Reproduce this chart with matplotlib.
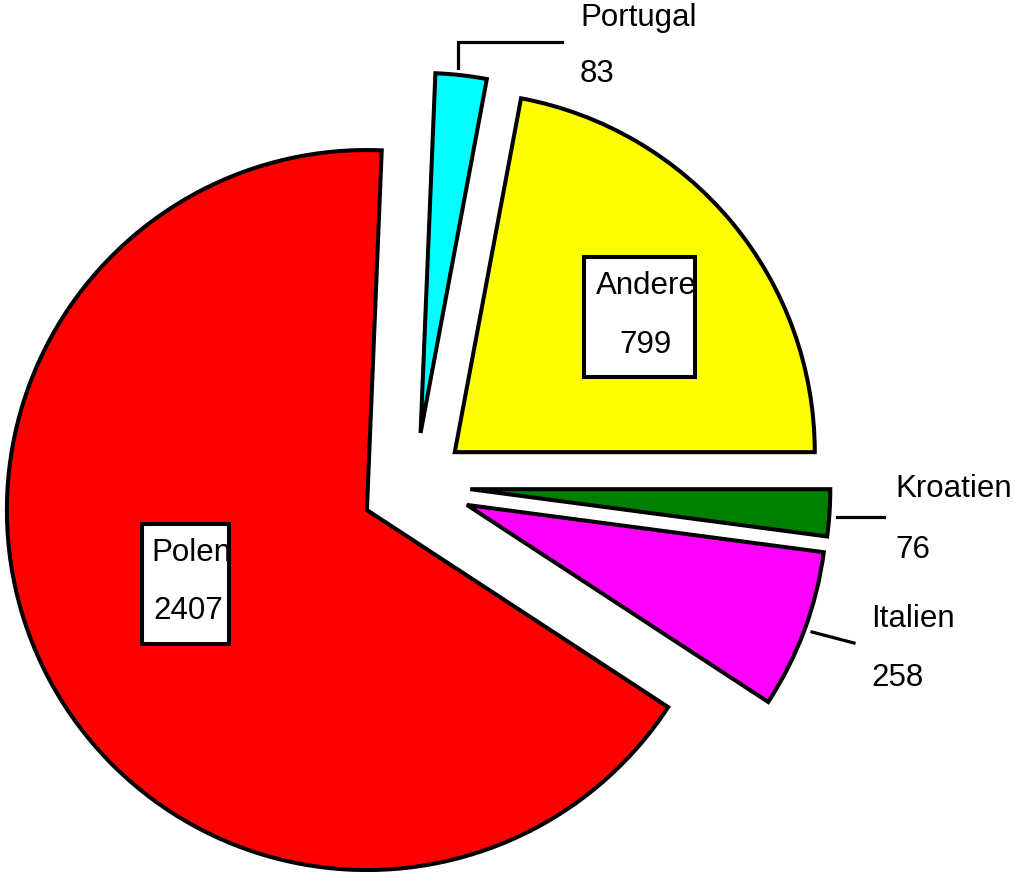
import matplotlib
matplotlib.use('Agg')
import matplotlib.pyplot as plt
from matplotlib.patches import Rectangle

labels = ['Andere', 'Portugal', 'Polen', 'Italien', 'Kroatien']
values = [799, 83, 2407, 258, 76]
colors = ['#FFFF00', '#00FFFF', '#FF0000', '#FF00FF', '#008000']
explode = [0.145, 0.147, 0.149, 0.155, 0.155]

W, H = 1015, 872
R = 360
plt.rcParams['font.family'] = ['Liberation Sans', 'DejaVu Sans']
fig = plt.figure(figsize=(W / 100, H / 100), dpi=100)
ax = fig.add_axes([0, 0, 1, 1])


def Y(y):
    return H - y


ax.pie(values, colors=colors, explode=[e * R for e in explode], startangle=0,
       counterclock=True, radius=R, center=(414.6, Y(485.5)), frame=True,
       wedgeprops=dict(edgecolor='black', linewidth=2.9, joinstyle='miter'))
ax.set_xlim(0, W)
ax.set_ylim(0, H)
ax.set_aspect('equal')
ax.axis('off')

fs = 22.5
# boxed labels
boxes = {
    'Andere': ((584, 257, 111, 120), (596, 294), (619, 353)),
    'Polen': ((142, 524, 87, 120), (151, 561), (153, 619)),
}
for lab, (rect, p1, p2) in boxes.items():
    x, y, w, h = rect
    ax.add_patch(Rectangle((x, Y(y + h)), w, h, facecolor='white', edgecolor='none', zorder=3))
    v = values[labels.index(lab)]
    ax.text(p1[0], Y(p1[1]), lab, fontsize=fs, ha='left', va='baseline', zorder=4)
    ax.text(p2[0], Y(p2[1]), str(v), fontsize=fs, ha='left', va='baseline', zorder=4)
    ax.add_patch(Rectangle((x, Y(y + h)), w, h, facecolor='none', edgecolor='black',
                           linewidth=2.9, zorder=5))

# outside labels with leader lines
outside = {
    'Portugal': ([(458, 68), (458, 42), (562, 42)], (580, 26), (580, 82)),
    'Kroatien': ([(837, 517), (884, 517)], (895, 497), (895, 558)),
    'Italien': ([(812, 632), (854, 643)], (871, 627), (871, 686)),
}
for lab, (pts, p1, p2) in outside.items():
    ax.plot([p[0] for p in pts], [Y(p[1]) for p in pts], color='black', linewidth=2.3,
            solid_joinstyle='miter')
    v = values[labels.index(lab)]
    ax.text(p1[0], Y(p1[1]), lab, fontsize=fs, ha='left', va='baseline')
    ax.text(p2[0], Y(p2[1]), str(v), fontsize=fs, ha='left', va='baseline')

fig.savefig('out.png', dpi=100)
